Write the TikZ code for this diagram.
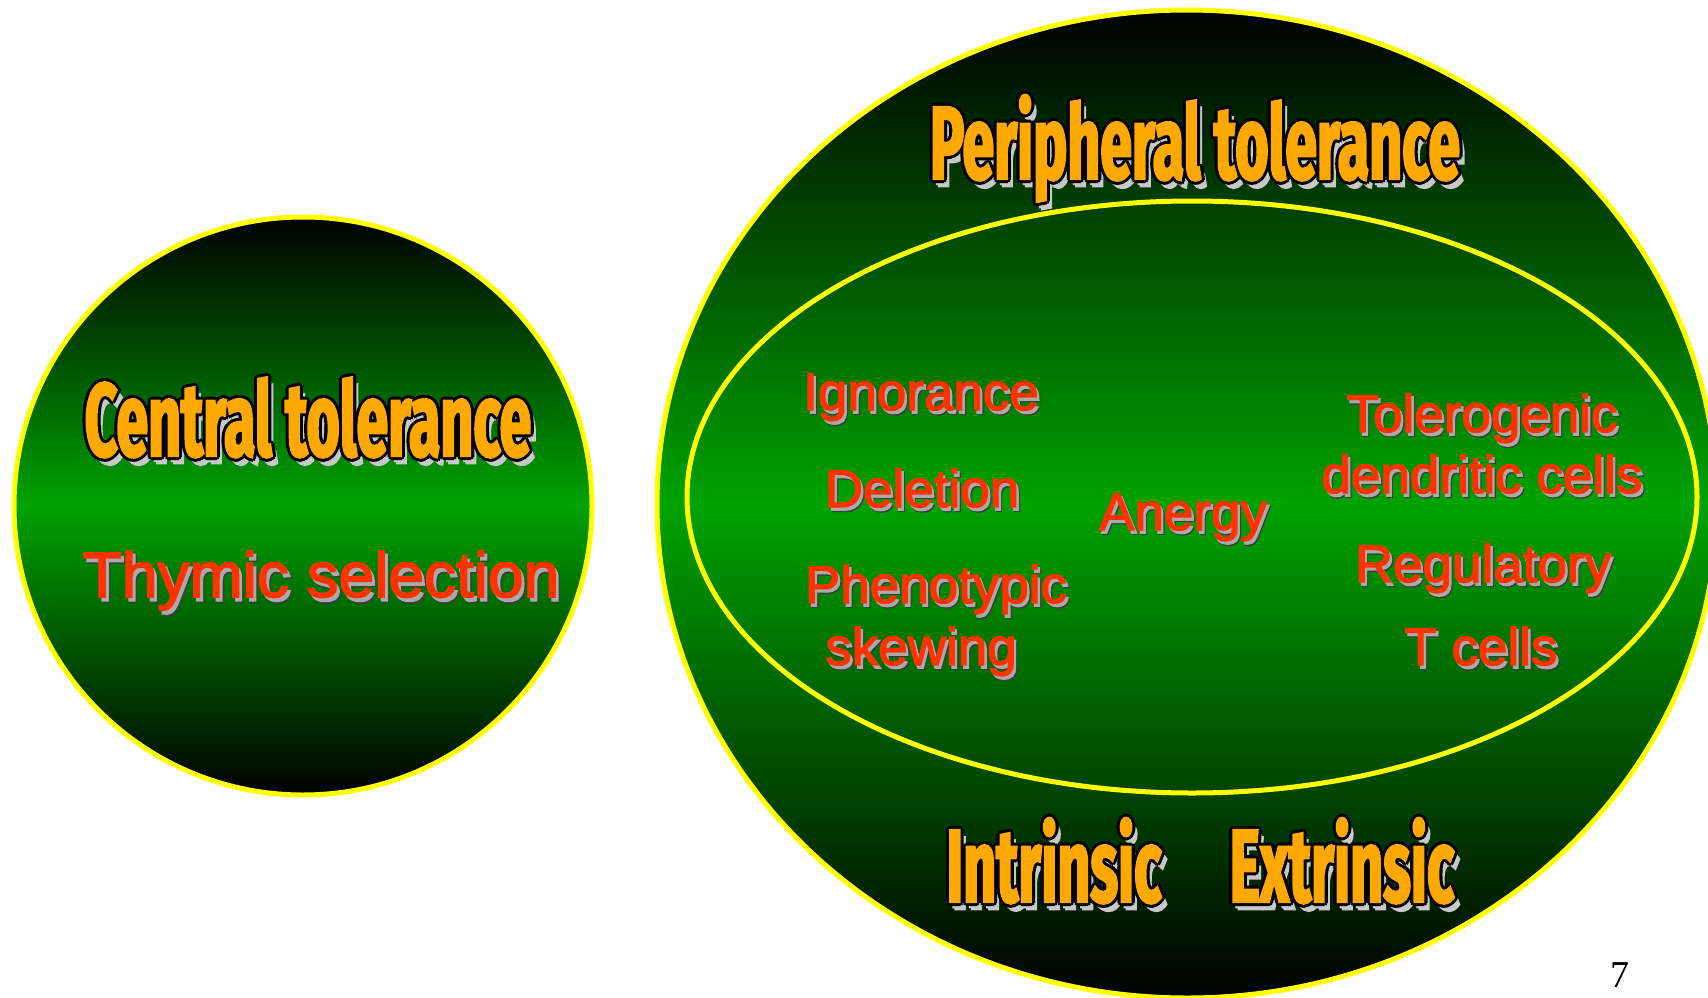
\documentclass[tikz,border=0pt]{standalone}
\usepackage{fontspec}
\setmainfont{Liberation Sans}
\newfontfamily\itemfont{Liberation Sans}[FakeBold=2.4]
\newfontfamily\titlefont{Fira Sans}[FakeStretch=0.55, FakeBold=2]
\newfontfamily\pagefont{Liberation Serif}
\usetikzlibrary{shapes.geometric}

\definecolor{deepgreen}{RGB}{0,162,0}
\definecolor{rimyellow}{RGB}{255,255,0}
\definecolor{titleorange}{RGB}{255,168,0}
\definecolor{alertred}{RGB}{255,51,0}
\definecolor{shadowgrey}{RGB}{200,200,200}
\definecolor{dropgrey}{RGB}{170,170,170}
\definecolor{dropdark}{RGB}{60,60,60}

% orange heading with black rim and grey shadow
\newcommand{\rimmed}[1]{%
  \rlap{\kern.05em\raisebox{-.07em}{\color{shadowgrey}#1}}%
  \rlap{\kern.03em\raisebox{-.05em}{\color{shadowgrey}#1}}%
  \rlap{\kern-.03em\color{black}#1}\rlap{\kern.03em\color{black}#1}%
  \rlap{\raisebox{.03em}{\color{black}#1}}\rlap{\raisebox{-.03em}{\color{black}#1}}%
  \rlap{\kern-.02em\raisebox{.02em}{\color{black}#1}}\rlap{\kern.02em\raisebox{.02em}{\color{black}#1}}%
  \rlap{\kern-.02em\raisebox{-.02em}{\color{black}#1}}\rlap{\kern.02em\raisebox{-.02em}{\color{black}#1}}%
  {\color{titleorange}#1}}
% red item with drop shadow
\newcommand{\dropped}[1]{%
  \rlap{\kern.065em\raisebox{-.085em}{\color{dropdark}#1}}%
  \rlap{\kern.045em\raisebox{-.06em}{\color{dropgrey}#1}}{\color{alertred}#1}}

\begin{document}
\begin{tikzpicture}[x=1pt, y=-1pt,
    bubble/.style={draw=rimyellow, line width=5pt, top color=black, bottom color=black, middle color=deepgreen},
    headline/.style={anchor=base, inner sep=0pt, font=\titlefont\bfseries\fontsize{104}{110}\selectfont},
    entry/.style={anchor=base, inner sep=0pt, font=\itemfont\fontsize{53}{60}\selectfont}]
  \clip (0,0) rectangle (1708,998);

  % Central tolerance
  \node[bubble, circle, minimum size=578pt] (central) at (303,506) {};
  \node[headline] (centralname) at (308,456) {\rimmed{Central tolerance}};
  \node[entry, font=\itemfont\fontsize{64}{70}\selectfont] (thymic) at (321,597) {\dropped{Thymic selection}};

  % Peripheral tolerance
  \node[bubble, ellipse, minimum width=1060pt, minimum height=988pt] (peripheral) at (1187,504) {};
  \node[draw=rimyellow, line width=5pt, ellipse, minimum width=1010pt, minimum height=592pt] (inner) at (1192,497) {};
  \node[headline] (periname) at (1195,179) {\rimmed{Peripheral tolerance}};

  % Mechanisms
  \node[entry] (ignorance) at (921,410) {\dropped{Ignorance}};
  \node[entry] (deletion) at (922,507) {\dropped{Deletion}};
  \node[entry] (phenotypic) at (936,603) {\dropped{Phenotypic}};
  \node[entry] (skewing) at (921,665) {\dropped{skewing}};
  \node[entry] (anergy) at (1183,530) {\dropped{Anergy}};
  \node[entry] (tolerogenic) at (1482,432) {\dropped{Tolerogenic}};
  \node[entry] (dendritic) at (1482,493) {\dropped{dendritic cells}};
  \node[entry] (regulatory) at (1483,582) {\dropped{Regulatory}};
  \node[entry] (tcells) at (1481,665) {\dropped{T cells}};

  % Intrinsic / extrinsic
  \node[headline] (intrinsic) at (1054,902) {\rimmed{Intrinsic}};
  \node[headline] (extrinsic) at (1342,902) {\rimmed{Extrinsic}};

  \node[anchor=base, inner sep=0pt, font=\pagefont\fontsize{38}{40}\selectfont] (pageno) at (1620,987) {7};
\end{tikzpicture}
\end{document}
